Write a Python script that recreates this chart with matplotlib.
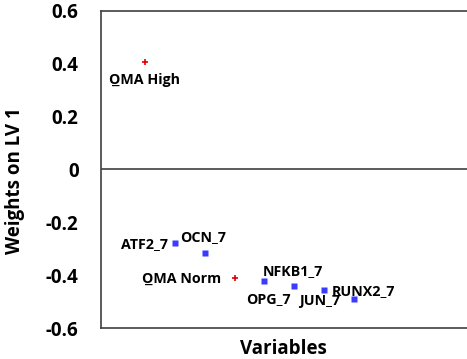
import matplotlib.pyplot as plt

plt.rcParams["font.family"] = ["Open Sans", "DejaVu Sans"]
plt.rcParams["font.weight"] = "bold"

# LV 1 weights: response levels (OMA) and gene expression variables
variables = ["OMA High", "ATF2_7", "OCN_7", "OMA Norm", "NFKB1_7", "OPG_7", "JUN_7", "RUNX2_7"]
weights = [0.407, -0.28, -0.315, -0.41, -0.42, -0.44, -0.457, -0.49]
is_response = [True, False, False, True, False, False, False, False]
yticks = [-0.6, -0.4, -0.2, 0, 0.2, 0.4, 0.6]

# label placement in pixels relative to the point: (dx, dy, ha)
label_pos = {
    "OMA High": (-36, -18, "left"),
    "ATF2_7": (-7, -1, "right"),
    "OCN_7": (-25, 16, "left"),
    "OMA Norm": (-93, -1, "left"),
    "NFKB1_7": (-2, 10, "left"),
    "OPG_7": (-4, -13, "right"),
    "JUN_7": (-25, -11, "left"),
    "RUNX2_7": (-22, 8, "left"),
}

fig = plt.figure(figsize=(4.67, 3.59), dpi=100)
ax = fig.add_axes([0.216, 0.086, 0.784, 0.884])

xs = list(range(1, len(variables) + 1))
for x, w, name, resp in zip(xs, weights, variables, is_response):
    if resp:
        ax.plot(x, w, marker="+", color="#e00000", ms=5, mew=1.2, ls="none")
    else:
        ax.plot(x, w, marker="s", color="#3b3bff", ms=4.2, mec="none", ls="none")
    dx, dy, ha = label_pos[name]
    ax.annotate(name, (x, w), xytext=(dx, dy), textcoords="offset pixels",
                ha=ha, va="center", fontsize=10.3, fontweight="bold")
    if resp:
        # underline under the leading "O"
        ax.annotate("_", (x, w), xytext=(dx + 3, dy + 1), textcoords="offset pixels",
                    ha="left", va="center", fontsize=13, fontweight="bold")

ax.axhline(0, color="#404040", lw=1.2)
ax.set_xlim(-0.47, 11.77)
ax.set_ylim(-0.6, 0.6)
ax.set_yticks(yticks)
ax.set_yticklabels(["-0.6", "-0.4", "-0.2", "0", "0.2", "0.4", "0.6"])
ax.set_xticks([])
ax.tick_params(axis="y", length=0, pad=16, labelsize=13.5)
for lbl in ax.get_yticklabels():
    lbl.set_fontweight("bold")

for side in ("left", "top", "bottom"):
    ax.spines[side].set_color("#404040")
    ax.spines[side].set_linewidth(1.2)
ax.spines["right"].set_visible(False)

ax.set_ylabel("Weights on LV 1", fontsize=13.5, fontweight="bold")
ax.yaxis.set_label_coords(-0.208, 0.466)
ax.set_xlabel("Variables", fontsize=13.5, fontweight="bold", labelpad=8)

fig.savefig("out.png", dpi=100)
